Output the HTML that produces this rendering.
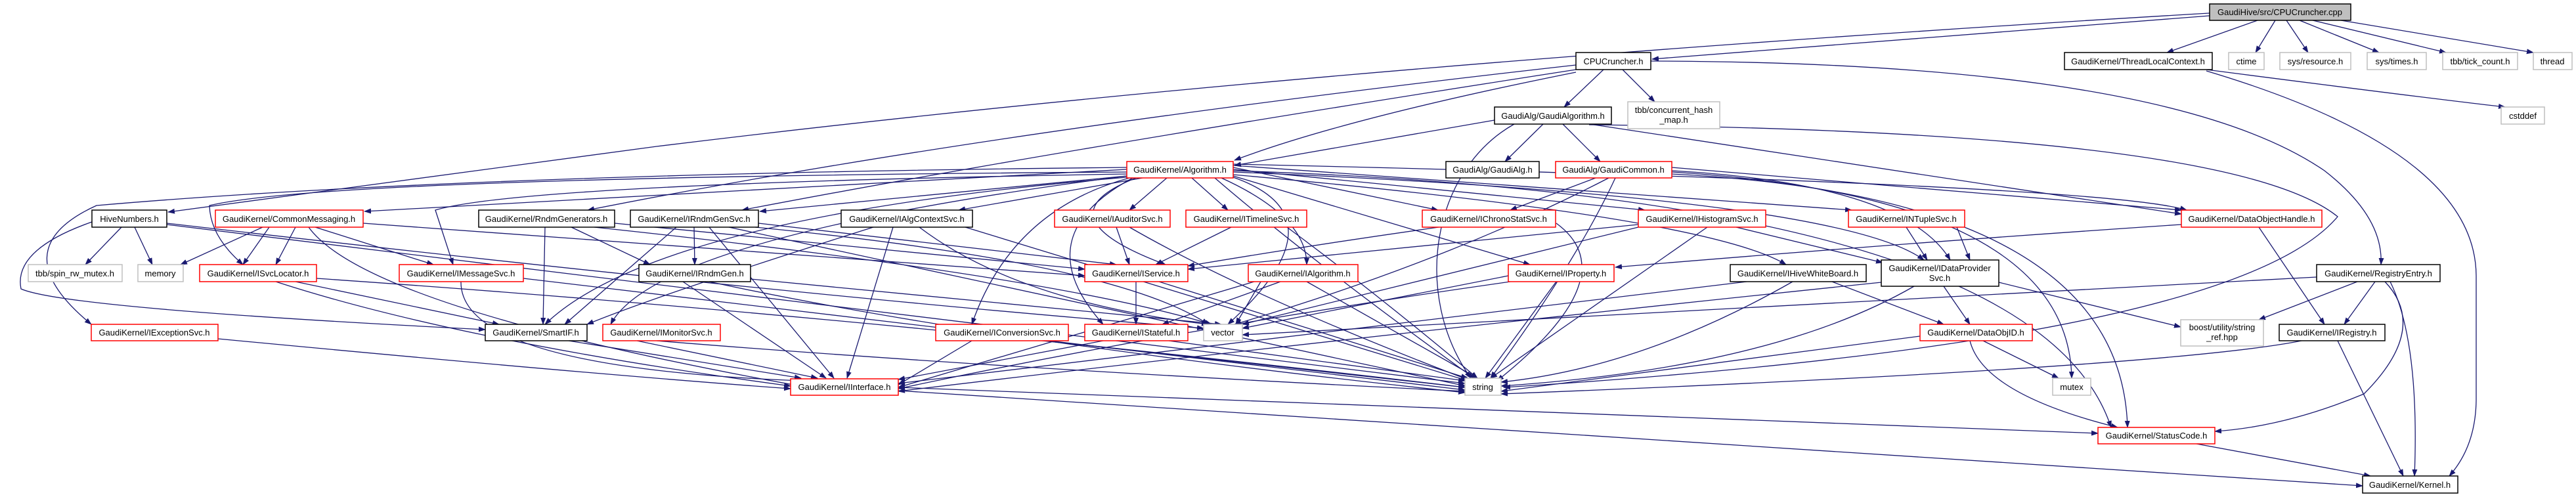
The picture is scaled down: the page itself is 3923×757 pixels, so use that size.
<!DOCTYPE html>
<html><head><meta charset="utf-8"><style>
html,body{margin:0;padding:0;background:#fff}
svg{display:block}
text{font-family:"Liberation Sans",Arial,sans-serif;font-size:13px;fill:#000;text-anchor:middle}
.e{fill:none;stroke:#191970;stroke-width:1.3;marker-end:url(#a)}
.k{fill:#fff;stroke:#000;stroke-width:1.5}
.r{fill:#fff;stroke:#ff0000;stroke-width:1.5}
.g{fill:#fff;stroke:#bfbfbf;stroke-width:1.5}
</style></head><body>
<svg width="3923" height="757" viewBox="0 0 3923 757" xmlns="http://www.w3.org/2000/svg">
<defs><marker id="a" markerWidth="11" markerHeight="8" refX="10" refY="4" orient="auto" markerUnits="userSpaceOnUse"><path d="M0,0 L11,4 L0,8 z" fill="#191970"/></marker></defs>
<g>
<!-- root -->
<path class="e" d="M3365,24 L2516,90"/>
<path class="e" d="M3438,31 L3300,80"/>
<path class="e" d="M3465,31 L3435,80"/>
<path class="e" d="M3482,31 L3515,80"/>
<path class="e" d="M3502,31 L3623,80"/>
<path class="e" d="M3522,31 L3725,80"/>
<path class="e" d="M3565,31 L3858,80"/>
<path class="e" d="M3365,20 Q2000,100 1000,223 L256,323"/>
<!-- CPUh -->
<path class="e" d="M2400,99 Q1500,200 895,320"/>
<path class="e" d="M2400,106 Q1600,230 1130,320"/>
<path class="e" d="M2442,106 L2382,163"/>
<path class="e" d="M2471,106 L2520,155"/>
<path class="e" d="M2514,93 Q3300,95 3540,260 Q3630,330 3626,403"/>
<path class="e" d="M2400,110 Q2050,180 1880,244"/>
<!-- TLC -->
<path class="e" d="M3360,106 Q3700,150 3815,163"/>
<path class="e" d="M3360,108 Q3770,230 3771,420 L3771,610 Q3770,680 3730,725"/>
<!-- GAlgorithm -->
<path class="e" d="M2350,189 L2292,246"/>
<path class="e" d="M2380,189 L2437,246"/>
<path class="e" d="M2276,183 L1880,252"/>
<path class="e" d="M2306,189 C2180,260 2150,450 2240,576"/>
<path class="e" d="M2421,189 L3322,326"/>
<path class="e" d="M2420,190 Q3400,200 3560,330 Q3400,520 2290,590"/>
<!-- Algorithm -->
<path class="e" d="M1716,255 Q700,265 147,313 Q0,380 139,494"/>
<path class="e" d="M1716,258 L555,322"/>
<path class="e" d="M1716,262 Q500,270 319,313 Q320,360 370,403"/>
<path class="e" d="M1716,265 Q800,280 663,320 L690,403"/>
<path class="e" d="M1716,268 L1157,322"/>
<path class="e" d="M1740,271 L1460,320"/>
<path class="e" d="M1777,271 L1720,320"/>
<path class="e" d="M1815,271 L1870,320"/>
<path class="e" d="M1878,255 L2190,320"/>
<path class="e" d="M1878,258 L2505,320"/>
<path class="e" d="M1878,252 L2820,320"/>
<path class="e" d="M1878,250 Q3200,280 3330,320"/>
<path class="e" d="M1878,262 Q2800,300 2930,396"/>
<path class="e" d="M1878,266 Q2600,330 2720,403"/>
<path class="e" d="M1878,268 L2330,403"/>
<path class="e" d="M1860,271 Q1990,330 1990,403"/>
<path class="e" d="M1730,271 Q1580,330 1775,403"/>
<path class="e" d="M1725,271 Q1560,360 1680,494"/>
<path class="e" d="M1720,271 Q1540,320 1480,494"/>
<path class="e" d="M1878,270 Q2050,330 1870,494"/>
<path class="e" d="M1850,271 Q2000,400 2245,576"/>
<path class="e" d="M1716,270 Q1000,330 830,494"/>
<path class="e" d="M1716,268 Q1000,360 930,494"/>
<path class="e" d="M1878,260 Q3100,300 3215,651"/>
<!-- GaudiCommon -->
<path class="e" d="M2430,271 L2300,320"/>
<path class="e" d="M2460,271 Q2400,400 2270,576"/>
<path class="e" d="M2450,271 Q2200,400 1880,494"/>
<path class="e" d="M2546,260 Q2900,280 2970,396"/>
<path class="e" d="M2546,255 L3322,320"/>
<path class="e" d="M2546,265 Q3230,300 3240,651"/>
<path class="e" d="M2546,262 Q3150,300 3155,576"/>
<!-- row4 -->
<path class="e" d="M2191,346 Q2000,373 1809,405"/>
<path class="e" d="M2370,340 Q2480,420 2280,580"/>
<path class="e" d="M2495,342 L1809,410"/>
<path class="e" d="M2600,346 L2270,576"/>
<path class="e" d="M2644,346 L2867,400"/>
<path class="e" d="M2495,346 L1892,494"/>
<path class="e" d="M2903,346 L2935,396"/>
<path class="e" d="M2980,346 L3000,396"/>
<path class="e" d="M3322,342 Q2900,370 2460,407"/>
<path class="e" d="M3440,346 L3540,494"/>
<path class="e" d="M1700,346 L1720,403"/>
<path class="e" d="M1720,346 Q1900,450 2240,580"/>
<path class="e" d="M1875,346 L1760,403"/>
<path class="e" d="M1960,346 Q2100,450 2250,576"/>
<path class="e" d="M1360,346 L1290,576"/>
<path class="e" d="M1330,346 Q1000,450 894,494"/>
<path class="e" d="M1400,346 Q1550,460 1840,494"/>
<path class="e" d="M1470,346 L2235,580"/>
<path class="e" d="M1057,346 L1058,403"/>
<path class="e" d="M1030,346 L860,494"/>
<path class="e" d="M1080,346 L1270,576"/>
<path class="e" d="M1110,346 L2232,588"/>
<path class="e" d="M1155,340 L1700,403"/>
<path class="e" d="M1150,346 Q1700,400 1840,494"/>
<path class="e" d="M830,346 L827,494"/>
<path class="e" d="M870,346 L990,403"/>
<path class="e" d="M905,346 Q1600,420 1845,494"/>
<path class="e" d="M936,340 L1652,410"/>
<path class="e" d="M410,346 L370,403"/>
<path class="e" d="M450,346 L420,403"/>
<path class="e" d="M470,346 Q560,470 1230,590"/>
<path class="e" d="M480,346 L660,403"/>
<path class="e" d="M553,340 L1652,420"/>
<path class="e" d="M400,346 L275,403"/>
<path class="e" d="M185,346 L130,403"/>
<path class="e" d="M205,346 L232,403"/>
<path class="e" d="M140,338 Q20,380 32,440 Q100,470 739,502"/>
<path class="e" d="M254,340 Q1200,450 1833,500"/>
<path class="e" d="M254,342 Q1200,460 2231,584"/>
<!-- row5 -->
<path class="e" d="M420,429 Q700,520 1204,588"/>
<path class="e" d="M450,429 L760,494"/>
<path class="e" d="M482,424 Q1300,480 2231,590"/>
<path class="e" d="M702,429 Q700,560 1220,580"/>
<path class="e" d="M797,424 L2231,594"/>
<path class="e" d="M1040,429 L1258,576"/>
<path class="e" d="M1080,429 Q1500,520 2231,598"/>
<path class="e" d="M1143,425 L1860,494"/>
<path class="e" d="M1730,429 L1730,494"/>
<path class="e" d="M1765,429 L2235,576"/>
<path class="e" d="M1950,429 L1770,494"/>
<path class="e" d="M1920,429 L1882,494"/>
<path class="e" d="M1990,429 L2250,576"/>
<path class="e" d="M1910,429 Q1600,520 1368,590"/>
<path class="e" d="M2370,429 L2262,576"/>
<path class="e" d="M2300,429 Q1800,500 1368,592"/>
<path class="e" d="M2297,420 L1892,500"/>
<path class="e" d="M2730,429 Q2500,560 2286,582"/>
<path class="e" d="M2790,429 L2960,494"/>
<path class="e" d="M2660,429 L1368,584"/>
<path class="e" d="M2915,436 Q2700,560 2286,588"/>
<path class="e" d="M3044,430 L3321,498"/>
<path class="e" d="M2960,436 L3000,494"/>
<path class="e" d="M2865,430 Q2000,520 1368,596"/>
<path class="e" d="M3528,422 L1892,510"/>
<path class="e" d="M3590,429 L3440,487"/>
<path class="e" d="M3617,429 L3570,494"/>
<path class="e" d="M3632,429 Q3700,500 3600,600 Q3480,650 3373,657"/>
<path class="e" d="M3640,429 Q3685,520 3677,725"/>
<!-- row6 -->
<path class="e" d="M332,516 Q900,570 1204,592"/>
<path class="e" d="M866,519 L1220,576"/>
<path class="e" d="M970,519 L1245,576"/>
<path class="e" d="M1000,519 Q1500,560 2231,596"/>
<path class="e" d="M1590,519 L2231,590"/>
<path class="e" d="M1480,519 L1368,586"/>
<path class="e" d="M1680,519 L1368,578"/>
<path class="e" d="M1780,519 L2231,580"/>
<path class="e" d="M3020,519 L3135,576"/>
<path class="e" d="M3000,519 Q3020,600 3225,651"/>
<path class="e" d="M2924,512 L2286,596"/>
<path class="e" d="M3505,519 Q3300,560 2286,600"/>
<path class="e" d="M3560,519 L3660,725"/>
<!-- bottom -->
<path class="e" d="M1368,590 L3195,660"/>
<path class="e" d="M1368,595 L3598,740"/>
<path class="e" d="M3345,676 L3610,725"/>
</g>
<g>
<rect class="k" x="3365" y="6" width="215" height="25" style="fill:#bfbfbf"/><text x="3472" y="23">GaudiHive/src/CPUCruncher.cpp</text>
<rect class="k" x="2400" y="80" width="114" height="26"/><text x="2457" y="98">CPUCruncher.h</text>
<rect class="k" x="3144" y="80" width="225" height="26"/><text x="3256" y="98">GaudiKernel/ThreadLocalContext.h</text>
<rect class="g" x="3394" y="80" width="54" height="26"/><text x="3421" y="98">ctime</text>
<rect class="g" x="3472" y="80" width="108" height="26"/><text x="3526" y="98">sys/resource.h</text>
<rect class="g" x="3605" y="80" width="90" height="26"/><text x="3650" y="98">sys/times.h</text>
<rect class="g" x="3720" y="80" width="114" height="26"/><text x="3777" y="98">tbb/tick_count.h</text>
<rect class="g" x="3858" y="80" width="59" height="26"/><text x="3887" y="98">thread</text>
<rect class="k" x="2276" y="163" width="178" height="26"/><text x="2365" y="181">GaudiAlg/GaudiAlgorithm.h</text>
<rect class="g" x="2479" y="155" width="140" height="41"/><text x="2549" y="172">tbb/concurrent_hash</text><text x="2549" y="187">_map.h</text>
<rect class="g" x="3809" y="163" width="66" height="26"/><text x="3842" y="181">cstddef</text>
<rect class="r" x="1716" y="246" width="162" height="25"/><text x="1797" y="263">GaudiKernel/Algorithm.h</text>
<rect class="k" x="2202" y="246" width="142" height="25"/><text x="2273" y="263">GaudiAlg/GaudiAlg.h</text>
<rect class="r" x="2369" y="246" width="177" height="25"/><text x="2457" y="263">GaudiAlg/GaudiCommon.h</text>
<rect class="k" x="140" y="320" width="114" height="26"/><text x="197" y="338">HiveNumbers.h</text>
<rect class="r" x="328" y="320" width="225" height="26"/><text x="440" y="338">GaudiKernel/CommonMessaging.h</text>
<rect class="k" x="729" y="320" width="207" height="26"/><text x="832" y="338">GaudiKernel/RndmGenerators.h</text>
<rect class="k" x="960" y="320" width="195" height="26"/><text x="1057" y="338">GaudiKernel/IRndmGenSvc.h</text>
<rect class="k" x="1281" y="320" width="200" height="26"/><text x="1381" y="338">GaudiKernel/IAlgContextSvc.h</text>
<rect class="r" x="1606" y="320" width="176" height="26"/><text x="1694" y="338">GaudiKernel/IAuditorSvc.h</text>
<rect class="r" x="1806" y="320" width="184" height="26"/><text x="1898" y="338">GaudiKernel/ITimelineSvc.h</text>
<rect class="r" x="2166" y="320" width="203" height="26"/><text x="2267" y="338">GaudiKernel/IChronoStatSvc.h</text>
<rect class="r" x="2495" y="320" width="194" height="26"/><text x="2592" y="338">GaudiKernel/IHistogramSvc.h</text>
<rect class="r" x="2815" y="320" width="177" height="26"/><text x="2903" y="338">GaudiKernel/INTupleSvc.h</text>
<rect class="r" x="3322" y="320" width="214" height="26"/><text x="3429" y="338">GaudiKernel/DataObjectHandle.h</text>
<rect class="g" x="43" y="403" width="143" height="26"/><text x="114" y="421">tbb/spin_rw_mutex.h</text>
<rect class="g" x="210" y="403" width="69" height="26"/><text x="244" y="421">memory</text>
<rect class="r" x="304" y="403" width="178" height="26"/><text x="393" y="421">GaudiKernel/ISvcLocator.h</text>
<rect class="r" x="608" y="403" width="189" height="26"/><text x="702" y="421">GaudiKernel/IMessageSvc.h</text>
<rect class="k" x="973" y="403" width="170" height="26"/><text x="1058" y="421">GaudiKernel/IRndmGen.h</text>
<rect class="r" x="1652" y="403" width="157" height="26"/><text x="1730" y="421">GaudiKernel/IService.h</text>
<rect class="r" x="1901" y="403" width="167" height="26"/><text x="1984" y="421">GaudiKernel/IAlgorithm.h</text>
<rect class="r" x="2297" y="403" width="161" height="26"/><text x="2377" y="421">GaudiKernel/IProperty.h</text>
<rect class="k" x="2635" y="403" width="207" height="26"/><text x="2738" y="421">GaudiKernel/IHiveWhiteBoard.h</text>
<rect class="k" x="2865" y="396" width="179" height="40"/><text x="2954" y="413">GaudiKernel/IDataProvider</text><text x="2954" y="428">Svc.h</text>
<rect class="k" x="3528" y="403" width="188" height="26"/><text x="3622" y="421">GaudiKernel/RegistryEntry.h</text>
<rect class="r" x="139" y="494" width="193" height="25"/><text x="235" y="511">GaudiKernel/IExceptionSvc.h</text>
<rect class="k" x="739" y="494" width="155" height="25"/><text x="816" y="511">GaudiKernel/SmartIF.h</text>
<rect class="r" x="918" y="494" width="179" height="25"/><text x="1007" y="511">GaudiKernel/IMonitorSvc.h</text>
<rect class="r" x="1425" y="494" width="202" height="25"/><text x="1526" y="511">GaudiKernel/IConversionSvc.h</text>
<rect class="r" x="1652" y="494" width="157" height="25"/><text x="1730" y="511">GaudiKernel/IStateful.h</text>
<rect class="g" x="1833" y="494" width="59" height="25"/><text x="1862" y="511">vector</text>
<rect class="r" x="2924" y="494" width="171" height="25"/><text x="3009" y="511">GaudiKernel/DataObjID.h</text>
<rect class="g" x="3321" y="487" width="126" height="40"/><text x="3384" y="503">boost/utility/string</text><text x="3384" y="518">_ref.hpp</text>
<rect class="k" x="3471" y="494" width="161" height="25"/><text x="3551" y="511">GaudiKernel/IRegistry.h</text>
<rect class="r" x="1204" y="577" width="164" height="25"/><text x="1286" y="594">GaudiKernel/IInterface.h</text>
<rect class="g" x="2231" y="576" width="55" height="26"/><text x="2258" y="594">string</text>
<rect class="g" x="3126" y="576" width="58" height="26"/><text x="3155" y="594">mutex</text>
<rect class="r" x="3195" y="651" width="178" height="25"/><text x="3284" y="668">GaudiKernel/StatusCode.h</text>
<rect class="k" x="3598" y="725" width="145" height="26"/><text x="3670" y="743">GaudiKernel/Kernel.h</text>
</g>
</svg>
</body></html>
